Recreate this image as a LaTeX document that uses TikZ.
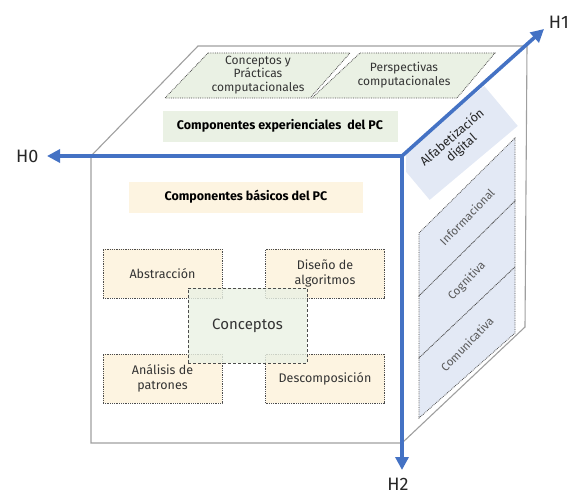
\documentclass[tikz,border=0pt]{standalone}
\usepackage{fontspec}
\setmainfont{Fira Sans}
\usetikzlibrary{shapes,arrows.meta,positioning}
\definecolor{ejeazul}{HTML}{4472C4}
\definecolor{verdecl}{HTML}{EAF1E4}
\definecolor{amarcl}{HTML}{FDF4E1}
\definecolor{azulcl}{HTML}{E3E9F5}

\begin{document}
\begin{tikzpicture}[x=1pt,y=-1pt,
  arista/.style={draw=gray!75,line width=1.1pt},
  eje/.style={draw=ejeazul,line width=3.6pt,-{Triangle[length=13pt,width=13pt]}},
  punteado/.style={draw=black!70,densely dotted,line width=0.8pt},
  caja/.style={punteado,fill=amarcl,minimum width=119pt,minimum height=49pt,
    align=center,text=black!80,font=\fontsize{12.5}{14.5}\selectfont},
  titulo/.style={minimum height=31pt,text=black,font=\bfseries\fontsize{12.5}{14}\selectfont},
  arriba/.style={align=center,text=black!80,font=\fontsize{12}{13.5}\selectfont},
  cara/.style={rotate=46,align=center,text=black!65,font=\fontsize{11.5}{13}\selectfont},
  etiqueta/.style={text=black!85,font=\fontsize{18}{20}\selectfont}]
\useasboundingbox (0,0) rectangle (575,495);

% Draw the cube edges
\draw[arista] (91,156) -- (198,46) -- (527,46) -- (525,327) -- (402,443) -- (91,443) -- cycle;

% Top face
\draw[punteado,fill=verdecl] (208,53) -- (350,53) -- (310,98) -- (165,98) -- cycle;
\node[arriba] (cpc) at (258,75) {Conceptos y\\Prácticas\\computacionales};
\draw[punteado,fill=verdecl] (360,53) -- (495,53) -- (457,98) -- (312,98) -- cycle;
\node[arriba] (pc) at (404,75) {Perspectivas\\computacionales};
\node[titulo,fill=verdecl,minimum width=235pt] (exp) at (280,126) {Componentes experienciales\ \ del PC};

% Front face
\node[titulo,fill=amarcl,minimum width=234pt] (bas) at (246,197) {Componentes básicos del PC};
\node[caja] (abs) at (162.5,273.5) {Abstracción};
\node[caja] (dis) at (325,273.5) {Diseño de\\algoritmos};
\node[caja] (ana) at (162.5,378.5) {Análisis de\\patrones};
\node[caja] (des) at (325,378.5) {Descomposición};
\node[draw=black!70,densely dashed,line width=0.8pt,fill=verdecl,fill opacity=0.8,text opacity=1,
  minimum width=119pt,minimum height=75pt,text=black!80,font=\fontsize{15}{17}\selectfont]
  (con) at (247.5,325.5) {Conceptos};

% Right face
\begin{scope}
\clip (406,40) rectangle (527,330);
\fill[azulcl,rotate around={40:(457,143)}] (399.5,117) rectangle (514.5,169);
\end{scope}
\node[rotate=41,align=center,text=black!85,font=\fontsize{12.5}{14}\selectfont]
  (alf) at (457,143) {Alfabetización\\digital};
\draw[punteado,fill=azulcl] (419,233) -- (515,138) -- (515,201) -- (419,296) -- cycle;
\node[cara] (inf) at (467,217) {Informacional};
\draw[punteado,fill=azulcl] (419,296) -- (515,201) -- (515,267) -- (419,358) -- cycle;
\node[cara] (cog) at (467,281) {Cognitiva};
\draw[punteado,fill=azulcl] (419,358) -- (515,267) -- (515,333) -- (419,418) -- cycle;
\node[cara] (com) at (467,344) {Comunicativa};

% Draw the axes
\coordinate (o) at (402,156);
\coordinate (h0) at (47,156);
\coordinate (h1) at (544,29);
\coordinate (h2) at (402,470);
\draw[eje] (o) -- (h0);
\draw[eje] (o) -- (h1);
\draw[eje] (o) -- (h2);
\node[etiqueta,left=5pt of h0] (lh0) {H0};
\node[etiqueta] (lh1) at (559,22) {H1};
\node[etiqueta,below=5pt of h2,xshift=-4pt] (lh2) {H2};
\end{tikzpicture}
\end{document}
